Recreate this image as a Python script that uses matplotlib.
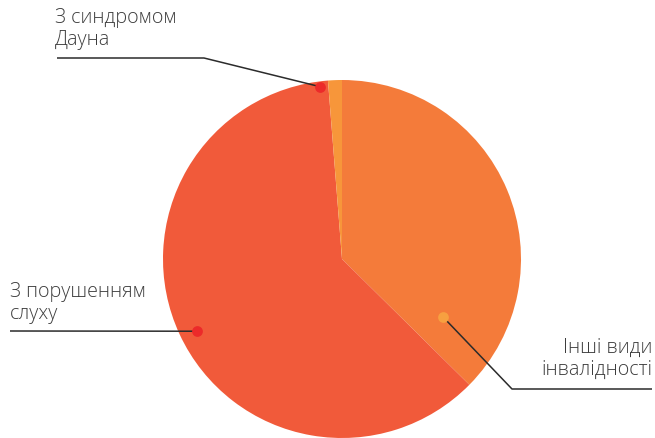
import numpy as np
import matplotlib
matplotlib.use('Agg')
import matplotlib.pyplot as plt

# Values (share of pie, percent), clockwise from the top
labels = ['Інші види\nінвалідності', 'З порушенням\nслуху', 'З синдромом\nДауна']
values = [37.4, 61.35, 1.25]
colors = ['#F47B3A', '#F15A3A', '#F7963A']
dot_colors = ['#F7A040', '#EC2A2A', '#EC2A2A']

W, H = 655, 438
fig = plt.figure(figsize=(W / 100, H / 100), dpi=100)
ax = fig.add_axes([0, 0, 1, 1])

cx, cy, R = 342, 179, 179
wedges, _ = ax.pie(values, colors=colors, startangle=90, counterclock=False,
                   center=(cx, cy), radius=R, frame=True,
                   wedgeprops=dict(linewidth=0))
ax.set_xlim(0, W)
ax.set_ylim(0, H)
ax.set_aspect('equal')
ax.axis('off')

font = dict(family=['Open Sans', 'DejaVu Sans'], fontweight='light',
            fontsize=14.2, color='#3d3d3d', linespacing=1.15)

# anchor dot: (position within wedge angle, radius fraction), leader path, text
layout = [
    dict(frac=0.11, r=0.65, path=[(512, 389), (652, 389)], text=(652, 359), ha='right'),
    dict(frac=0.507, r=0.905, path=[(10, 331)], text=(10, 303), ha='left'),
    dict(frac=1.6, r=0.97, path=[(204, 58), (57, 58)], text=(55, 29), ha='left'),
]

for w, lab, dc, lay in zip(wedges, labels, dot_colors, layout):
    a = np.deg2rad(w.theta1 + lay['frac'] * (w.theta2 - w.theta1))
    px = cx + lay['r'] * R * np.cos(a)
    py = cy + lay['r'] * R * np.sin(a)
    pts = [(px, H - py)] + lay['path']
    xs = [p[0] for p in pts]
    ys = [H - p[1] for p in pts]
    ax.plot(xs, ys, color='#2b2b2b', lw=1.1, solid_capstyle='butt', zorder=3)
    ax.scatter([px], [py], s=60, color=dc, zorder=4, linewidths=0)
    tx, ty = lay['text']
    ax.text(tx, H - ty, lab, ha=lay['ha'], va='center', **font)

fig.savefig('out.png', dpi=100)
